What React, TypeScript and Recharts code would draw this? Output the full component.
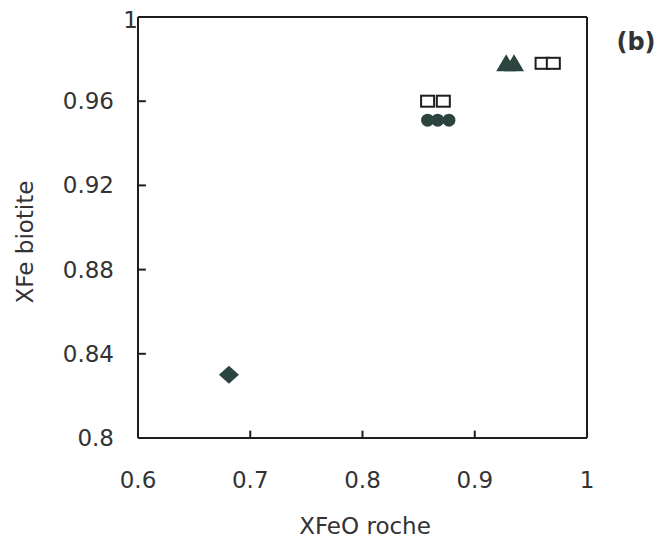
import React from 'react';
import { ScatterChart, Scatter, XAxis, YAxis, ReferenceLine, Customized } from 'recharts';

const xTicks = [0.6, 0.7, 0.8, 0.9, 1];
const yTicks = [0.8, 0.84, 0.88, 0.92, 0.96, 1];
const xTickLabels = ['0.6', '0.7', '0.8', '0.9', '1'];
const yTickLabels = ['0.8', '0.84', '0.88', '0.92', '0.96', '1'];
const xInnerTicks = [0.7, 0.8, 0.9];
const yInnerTicks = [0.84, 0.88, 0.92, 0.96];

const diamondX = [0.681];
const diamondY = [0.83];
const circleX = [0.858, 0.867, 0.877];
const circleY = [0.951, 0.951, 0.951];
const squareLowX = [0.858, 0.872];
const squareLowY = [0.96, 0.96];
const triangleX = [0.928, 0.935];
const triangleY = [0.978, 0.978];
const squareHighX = [0.96, 0.97];
const squareHighY = [0.978, 0.978];

const xTitle = 'XFeO roche';
const yTitle = 'XFe biotite';
const panelLabel = '(b)';

const toPts = (xs: number[], ys: number[]) => xs.map((x, i) => ({ x, y: ys[i] }));

const INK = '#2c4440';
const LINE = '#1e1e1e';
const TEXT = '#333333';
const FONT = 'DejaVu Sans, sans-serif';
const FS = 23;
const PLOT_LEFT = 138;
// inward tick lengths in axis units (about 7-8 px)
const X_TICK_LEN = 0.0035;
const Y_TICK_LEN = 0.007;

const Diamond = (p: any) => (
  <polygon
    points={`${p.cx},${p.cy - 9} ${p.cx + 10},${p.cy} ${p.cx},${p.cy + 9} ${p.cx - 10},${p.cy}`}
    fill={INK}
  />
);
const Circle = (p: any) => <circle cx={p.cx} cy={p.cy} r={6.5} fill={INK} />;
const Square = (p: any) => (
  <rect x={p.cx - 6.5} y={p.cy - 5.5} width={13} height={11} fill="#fff" stroke={LINE} strokeWidth={2} />
);
const Triangle = (p: any) => (
  <polygon
    points={`${p.cx},${p.cy - 9} ${p.cx + 10},${p.cy + 8} ${p.cx - 10},${p.cy + 8}`}
    fill={INK}
  />
);

const XTick = (p: any) => {
  const v = p.payload.value;
  const idx = xTicks.indexOf(v);
  return (
    <text x={p.x} y={488} textAnchor="middle" fontSize={FS} fontFamily={FONT} fill={TEXT}>
      {xTickLabels[idx]}
    </text>
  );
};

const YTick = (p: any) => {
  const v = p.payload.value;
  const idx = yTicks.indexOf(v);
  const isTop = v === 1;
  return (
    <text
      x={isTop ? PLOT_LEFT : PLOT_LEFT - 24}
      y={isTop ? p.y + 11 : p.y + 8}
      textAnchor="end"
      fontSize={FS}
      fontFamily={FONT}
      fill={TEXT}
    >
      {yTickLabels[idx]}
    </text>
  );
};

const Titles = () => (
  <g>
    <text x={365} y={534} textAnchor="middle" fontSize={FS} fontFamily={FONT} fill={TEXT}>
      {xTitle}
    </text>
    <text
      x={33}
      y={242}
      transform="rotate(-90 33 242)"
      textAnchor="middle"
      fontSize={FS}
      fontFamily={FONT}
      fill={TEXT}
    >
      {yTitle}
    </text>
    <text x={636} y={50} textAnchor="middle" fontSize={24} fontWeight="bold" fontFamily={FONT} fill={TEXT}>
      {panelLabel}
    </text>
  </g>
);

export default function App() {
  return (
    <div style={{ position: 'absolute', left: 0, top: 0, background: '#fff' }}>
      <ScatterChart width={667} height={546} margin={{ top: 17, right: 80, bottom: 0, left: 0 }}>
        <XAxis
          type="number"
          dataKey="x"
          domain={[0.6, 1]}
          ticks={xTicks}
          tick={<XTick />}
          tickLine={false}
          axisLine={{ stroke: LINE, strokeWidth: 2 }}
          height={108}
          allowDataOverflow
        />
        <YAxis
          type="number"
          dataKey="y"
          domain={[0.8, 1]}
          ticks={yTicks}
          tick={<YTick />}
          tickLine={false}
          axisLine={{ stroke: LINE, strokeWidth: 2 }}
          width={138}
          allowDataOverflow
        />
        <ReferenceLine y={1} stroke={LINE} strokeWidth={2} />
        <ReferenceLine x={1} stroke={LINE} strokeWidth={2} />
        {xInnerTicks.map((t) => (
          <ReferenceLine
            key={`xt${t}`}
            segment={[{ x: t, y: 0.8 }, { x: t, y: 0.8 + X_TICK_LEN }]}
            stroke={LINE}
            strokeWidth={2}
          />
        ))}
        {yInnerTicks.map((t) => (
          <ReferenceLine
            key={`yt${t}`}
            segment={[{ x: 0.6, y: t }, { x: 0.6 + Y_TICK_LEN, y: t }]}
            stroke={LINE}
            strokeWidth={2}
          />
        ))}
        <Scatter data={toPts(diamondX, diamondY)} shape={<Diamond />} isAnimationActive={false} />
        <Scatter data={toPts(circleX, circleY)} shape={<Circle />} isAnimationActive={false} />
        <Scatter data={toPts(squareLowX, squareLowY)} shape={<Square />} isAnimationActive={false} />
        <Scatter data={toPts(triangleX, triangleY)} shape={<Triangle />} isAnimationActive={false} />
        <Scatter data={toPts(squareHighX, squareHighY)} shape={<Square />} isAnimationActive={false} />
        <Customized component={Titles} />
      </ScatterChart>
    </div>
  );
}
